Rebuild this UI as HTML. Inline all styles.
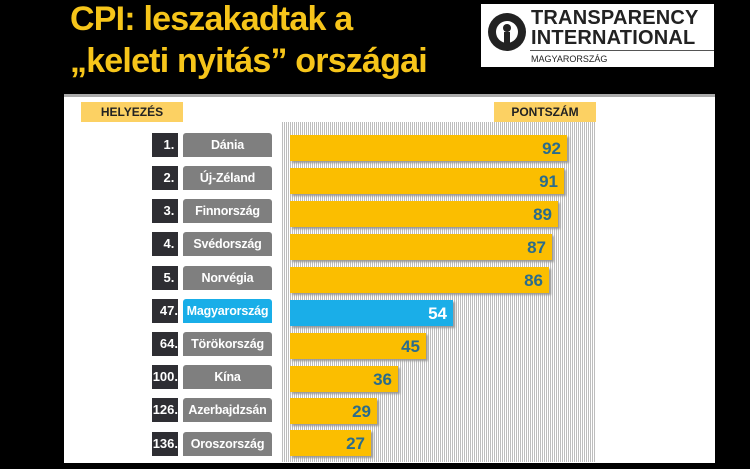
<!DOCTYPE html>
<html><head><meta charset="utf-8"><style>
body{margin:0;width:750px;height:469px;background:#000;position:relative;overflow:hidden;font-family:"Liberation Sans",sans-serif}
.t{position:absolute;left:70px;color:#f6c51a;font-size:34px;font-weight:bold;letter-spacing:-0.8px;white-space:nowrap}
.logo{position:absolute;left:481px;top:4px;width:233px;height:63px;background:#fff}
.panel{position:absolute;left:64px;top:94px;width:651px;height:366px;background:#fff;border-top:3px solid #aaa}
.hdr{position:absolute;top:102px;height:20px;width:102px;background:#fcd163;font-size:12px;font-weight:bold;color:#222;text-align:center;line-height:20px}
.stripe{position:absolute;left:281px;top:122px;width:314px;height:340px;background:repeating-linear-gradient(90deg,#fff 0 1px,#bdbdbd 1px 2px)}
.rk{position:absolute;left:152px;width:26px;height:24px;background:#2e2e33;color:#fff;font-weight:bold;font-size:13px;text-align:right;line-height:24px}
.nm{position:absolute;left:183px;width:89px;height:24px;background:#7f7f7f;color:#fff;font-weight:bold;font-size:12.5px;text-align:center;line-height:24px;border-radius:3px 3px 0 0;letter-spacing:-0.2px}
.bar{position:absolute;left:290px;height:26px;background:#fbbe00;color:#2a6c8c;font-weight:bold;font-size:17px;text-align:right;line-height:28px;box-shadow:2px 2px 2px #999}
.bar span{padding-right:6px}
</style></head><body>
<div class="t" style="top:0px">CPI: leszakadtak a</div>
<div class="t" style="top:42px">„keleti nyitás” országai</div>
<div class="logo">
<svg width="44" height="44" style="position:absolute;left:4px;top:6px"><circle cx="22" cy="22" r="19" fill="#222"/><circle cx="22" cy="22" r="11" fill="#fff"/><circle cx="22" cy="18" r="4" fill="#222"/><rect x="19" y="22" width="6" height="16" fill="#222"/></svg>
<div style="position:absolute;left:50px;top:4px;font-size:20px;font-weight:bold;color:#222;line-height:20px;letter-spacing:0.2px">TRANSPARENCY<br>INTERNATIONAL</div>
<div style="position:absolute;left:49px;top:46px;width:184px;border-top:1px solid #555"></div>
<div style="position:absolute;left:50px;top:50px;font-size:9px;color:#222">MAGYARORSZÁG</div>
</div>
<div class="panel"></div>
<div class="hdr" style="left:81px">HELYEZÉS</div>
<div class="hdr" style="left:494px">PONTSZÁM</div>
<div class="stripe"></div>
<div class="rk" style="top:133px">1.&nbsp;</div><div class="nm" style="top:133px">Dánia</div><div class="bar" style="top:135px;width:277px"><span>92</span></div>
<div class="rk" style="top:166px">2.&nbsp;</div><div class="nm" style="top:166px">Új-Zéland</div><div class="bar" style="top:168px;width:274px"><span>91</span></div>
<div class="rk" style="top:199px">3.&nbsp;</div><div class="nm" style="top:199px">Finnország</div><div class="bar" style="top:201px;width:268px"><span>89</span></div>
<div class="rk" style="top:232px">4.&nbsp;</div><div class="nm" style="top:232px">Svédország</div><div class="bar" style="top:234px;width:262px"><span>87</span></div>
<div class="rk" style="top:266px">5.&nbsp;</div><div class="nm" style="top:266px">Norvégia</div><div class="bar" style="top:267px;width:259px"><span>86</span></div>
<div class="rk" style="top:299px">47.</div><div class="nm" style="top:299px;background:#19aee8">Magyarország</div><div class="bar" style="top:300px;width:163px;background:#1aaee8;color:#fff"><span>54</span></div>
<div class="rk" style="top:332px">64.</div><div class="nm" style="top:332px">Törökország</div><div class="bar" style="top:333px;width:136px"><span>45</span></div>
<div class="rk" style="top:365px">100.</div><div class="nm" style="top:365px">Kína</div><div class="bar" style="top:366px;width:108px"><span>36</span></div>
<div class="rk" style="top:398px">126.</div><div class="nm" style="top:398px">Azerbajdzsán</div><div class="bar" style="top:398px;width:87px"><span>29</span></div>
<div class="rk" style="top:432px">136.</div><div class="nm" style="top:432px">Oroszország</div><div class="bar" style="top:430px;width:81px"><span>27</span></div>
</body></html>
